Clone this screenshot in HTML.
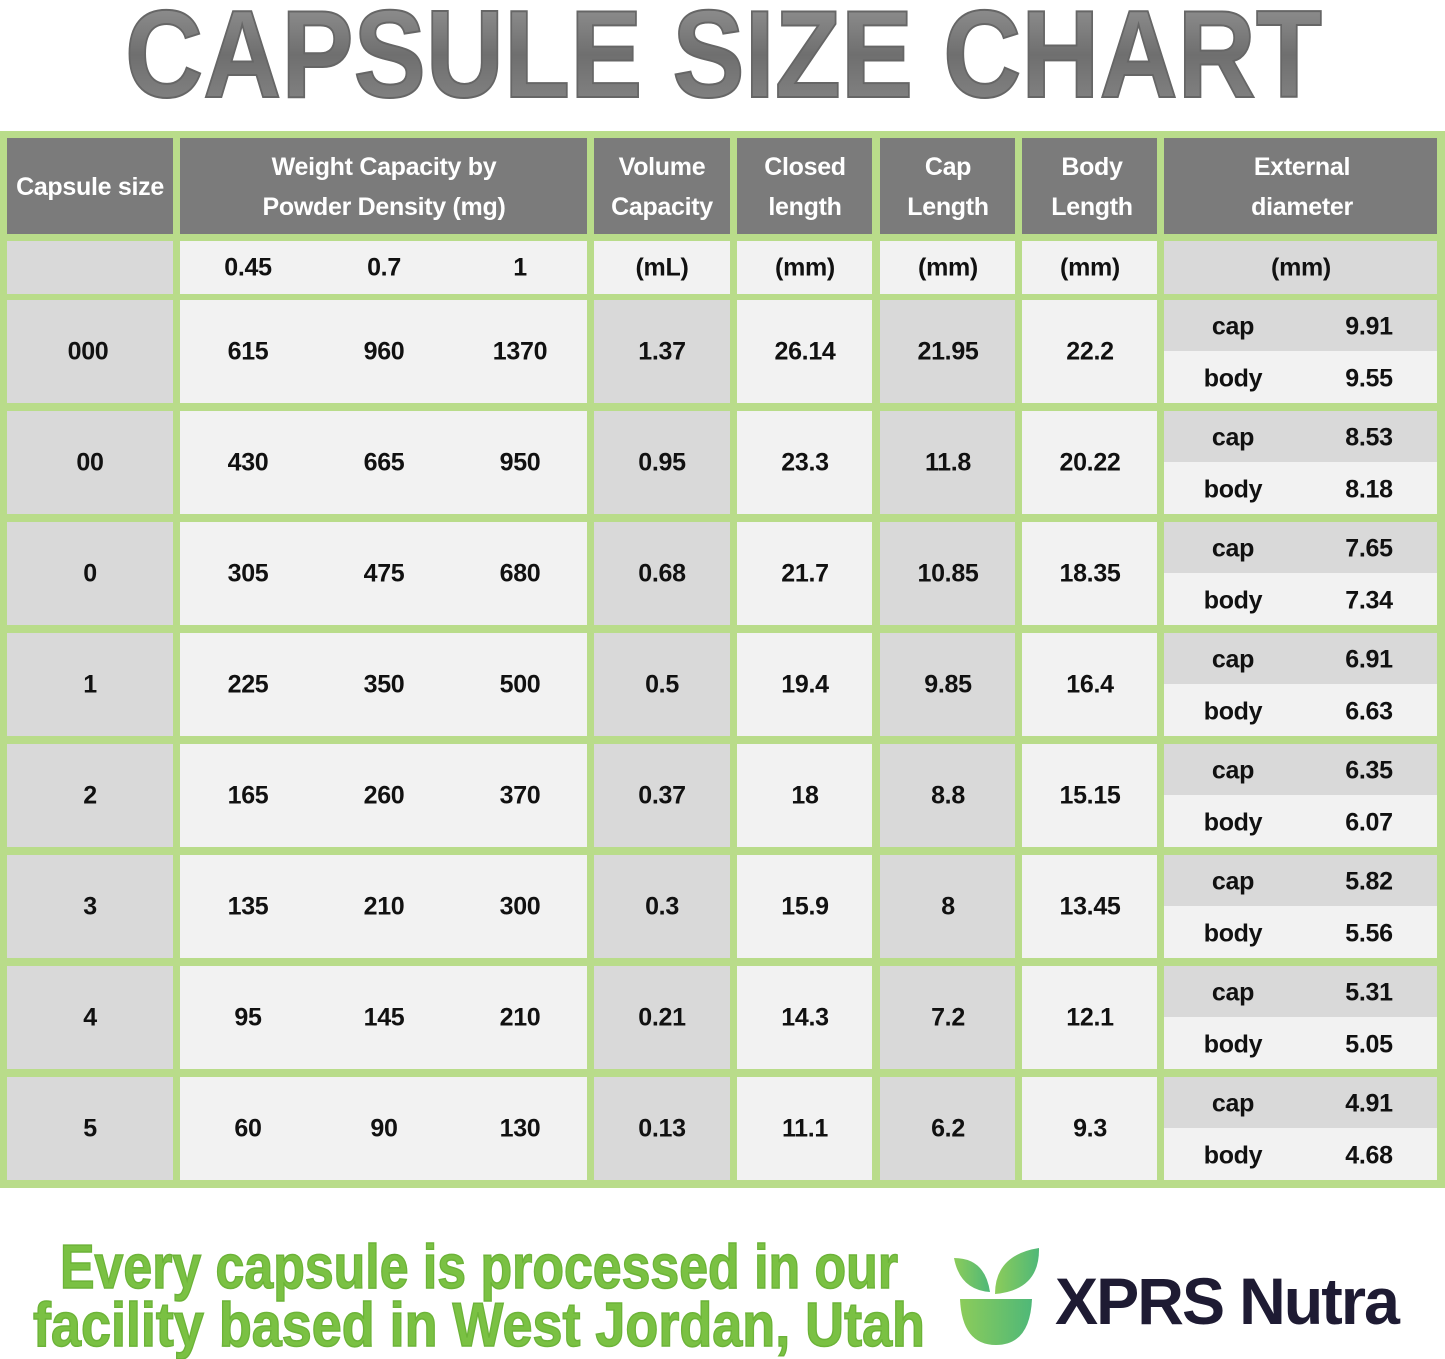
<!DOCTYPE html>
<html><head><meta charset="utf-8"><style>
body{margin:0;width:1445px;height:1359px;background:#fff;position:relative;overflow:hidden;font-family:"Liberation Sans",sans-serif}
.c{position:absolute}
.g{background:#d9d9d9}.l{background:#f2f2f2}.h{background:#7b7b7b}
.t{position:absolute;transform:translate(-50%,-50%);font-weight:bold;font-size:25px;color:#111;white-space:nowrap;letter-spacing:-0.3px}
.w{color:#fff;text-align:center;line-height:40px}
</style></head><body>
<svg class="c" style="left:0;top:0" width="1445" height="1359">
<defs><linearGradient id="tg" x1="0" y1="0" x2="0" y2="1"><stop offset="0" stop-color="#9a9a9a"/><stop offset="0.5" stop-color="#6f6f6f"/><stop offset="1" stop-color="#8a8a8a"/></linearGradient></defs>
<text x="125" y="97" textLength="1197" lengthAdjust="spacingAndGlyphs" font-family="Liberation Sans" font-weight="bold" font-size="124" fill="url(#tg)" stroke="#666" stroke-width="2">CAPSULE SIZE CHART</text>
<text x="60" y="1288" textLength="838" lengthAdjust="spacingAndGlyphs" font-family="Liberation Sans" font-weight="bold" font-size="62" fill="#7ac143" stroke="#6cb338" stroke-width="1.5">Every capsule is processed in our</text>
<text x="33" y="1346" textLength="892" lengthAdjust="spacingAndGlyphs" font-family="Liberation Sans" font-weight="bold" font-size="62" fill="#7ac143" stroke="#6cb338" stroke-width="1.5">facility based in West Jordan, Utah</text>
<defs><linearGradient id="lg" x1="0" y1="0" x2="1" y2="0"><stop offset="0" stop-color="#8ccc5a"/><stop offset="1" stop-color="#4fb878"/></linearGradient></defs>
<path d="M960 1299 L1032 1299 Q1030 1345 996 1345 Q962 1345 960 1299Z" fill="url(#lg)"/>
<path d="M954 1258 Q985 1258 990 1292 Q960 1290 954 1258Z" fill="url(#lg)"/>
<path d="M1039 1248 Q1040 1290 995 1294 Q995 1255 1039 1248Z" fill="url(#lg)"/>
<text x="1055" y="1324" textLength="343" lengthAdjust="spacingAndGlyphs" font-family="Liberation Sans" font-weight="bold" font-size="66" fill="#1e1b33" letter-spacing="-2">XPRS Nutra</text>
</svg>
<div class="c" style="left:0;top:131px;width:1445px;height:1057px;background:#b9dc8a"></div>
<!-- header -->
<div class="c h" style="left:7px;top:138px;width:166px;height:96px"></div>
<div class="c h" style="left:180px;top:138px;width:407px;height:96px"></div>
<div class="c h" style="left:594px;top:138px;width:136px;height:96px"></div>
<div class="c h" style="left:737px;top:138px;width:135px;height:96px"></div>
<div class="c h" style="left:880px;top:138px;width:135px;height:96px"></div>
<div class="c h" style="left:1022px;top:138px;width:135px;height:96px"></div>
<div class="c h" style="left:1164px;top:138px;width:273px;height:96px"></div>
<div class="t w" style="left:90px;top:187px">Capsule size</div>
<div class="t w" style="left:384px;top:187px">Weight Capacity by<br>Powder Density (mg)</div>
<div class="t w" style="left:662px;top:187px">Volume<br>Capacity</div>
<div class="t w" style="left:805px;top:187px">Closed<br>length</div>
<div class="t w" style="left:948px;top:187px">Cap<br>Length</div>
<div class="t w" style="left:1092px;top:187px">Body<br>Length</div>
<div class="t w" style="left:1302px;top:187px">External<br>diameter</div>
<!-- sub -->
<div class="c g" style="left:7px;top:241px;width:166px;height:53px"></div>
<div class="c l" style="left:180px;top:241px;width:407px;height:53px"></div>
<div class="c l" style="left:594px;top:241px;width:136px;height:53px"></div>
<div class="c l" style="left:737px;top:241px;width:135px;height:53px"></div>
<div class="c l" style="left:880px;top:241px;width:135px;height:53px"></div>
<div class="c l" style="left:1022px;top:241px;width:135px;height:53px"></div>
<div class="c g" style="left:1164px;top:241px;width:273px;height:53px"></div>
<div class="t" style="left:248px;top:268px">0.45</div><div class="t" style="left:384px;top:268px">0.7</div><div class="t" style="left:520px;top:268px">1</div>
<div class="t" style="left:662px;top:268px">(mL)</div><div class="t" style="left:805px;top:268px">(mm)</div><div class="t" style="left:948px;top:268px">(mm)</div><div class="t" style="left:1090px;top:268px">(mm)</div><div class="t" style="left:1301px;top:268px">(mm)</div>

<!-- rows: top T, height 103 -->
<div class="c g" style="left:7px;top:300px;width:166px;height:880px"></div>
<div class="c" style="left:0;top:403px;width:1445px;height:8px;background:#b9dc8a;z-index:2"></div>
<div class="c" style="left:0;top:514px;width:1445px;height:8px;background:#b9dc8a;z-index:2"></div>
<div class="c" style="left:0;top:625px;width:1445px;height:8px;background:#b9dc8a;z-index:2"></div>
<div class="c" style="left:0;top:736px;width:1445px;height:8px;background:#b9dc8a;z-index:2"></div>
<div class="c" style="left:0;top:847px;width:1445px;height:8px;background:#b9dc8a;z-index:2"></div>
<div class="c" style="left:0;top:958px;width:1445px;height:8px;background:#b9dc8a;z-index:2"></div>
<div class="c" style="left:0;top:1069px;width:1445px;height:8px;background:#b9dc8a;z-index:2"></div>
<div class="c l" style="left:180px;top:300px;width:407px;height:880px"></div>
<div class="c g" style="left:594px;top:300px;width:136px;height:880px"></div>
<div class="c l" style="left:737px;top:300px;width:135px;height:880px"></div>
<div class="c g" style="left:880px;top:300px;width:135px;height:880px"></div>
<div class="c l" style="left:1022px;top:300px;width:135px;height:880px"></div>
<div class="c" style="left:1164px;top:300px;width:273px;height:880px;background:repeating-linear-gradient(to bottom,#d9d9d9 0,#d9d9d9 51px,#f2f2f2 51px,#f2f2f2 111px)"></div>

<div class="t" style="left:88px;top:352px">000</div><div class="t" style="left:248px;top:352px">615</div><div class="t" style="left:384px;top:352px">960</div><div class="t" style="left:520px;top:352px">1370</div><div class="t" style="left:662px;top:352px">1.37</div><div class="t" style="left:805px;top:352px">26.14</div><div class="t" style="left:948px;top:352px">21.95</div><div class="t" style="left:1090px;top:352px">22.2</div><div class="t" style="left:1233px;top:327px">cap</div><div class="t" style="left:1369px;top:327px">9.91</div><div class="t" style="left:1233px;top:379px">body</div><div class="t" style="left:1369px;top:379px">9.55</div>

<div class="t" style="left:90px;top:463px">00</div><div class="t" style="left:248px;top:463px">430</div><div class="t" style="left:384px;top:463px">665</div><div class="t" style="left:520px;top:463px">950</div><div class="t" style="left:662px;top:463px">0.95</div><div class="t" style="left:805px;top:463px">23.3</div><div class="t" style="left:948px;top:463px">11.8</div><div class="t" style="left:1090px;top:463px">20.22</div><div class="t" style="left:1233px;top:438px">cap</div><div class="t" style="left:1369px;top:438px">8.53</div><div class="t" style="left:1233px;top:490px">body</div><div class="t" style="left:1369px;top:490px">8.18</div>

<div class="t" style="left:90px;top:574px">0</div><div class="t" style="left:248px;top:574px">305</div><div class="t" style="left:384px;top:574px">475</div><div class="t" style="left:520px;top:574px">680</div><div class="t" style="left:662px;top:574px">0.68</div><div class="t" style="left:805px;top:574px">21.7</div><div class="t" style="left:948px;top:574px">10.85</div><div class="t" style="left:1090px;top:574px">18.35</div><div class="t" style="left:1233px;top:549px">cap</div><div class="t" style="left:1369px;top:549px">7.65</div><div class="t" style="left:1233px;top:601px">body</div><div class="t" style="left:1369px;top:601px">7.34</div>

<div class="t" style="left:90px;top:685px">1</div><div class="t" style="left:248px;top:685px">225</div><div class="t" style="left:384px;top:685px">350</div><div class="t" style="left:520px;top:685px">500</div><div class="t" style="left:662px;top:685px">0.5</div><div class="t" style="left:805px;top:685px">19.4</div><div class="t" style="left:948px;top:685px">9.85</div><div class="t" style="left:1090px;top:685px">16.4</div><div class="t" style="left:1233px;top:660px">cap</div><div class="t" style="left:1369px;top:660px">6.91</div><div class="t" style="left:1233px;top:712px">body</div><div class="t" style="left:1369px;top:712px">6.63</div>

<div class="t" style="left:90px;top:796px">2</div><div class="t" style="left:248px;top:796px">165</div><div class="t" style="left:384px;top:796px">260</div><div class="t" style="left:520px;top:796px">370</div><div class="t" style="left:662px;top:796px">0.37</div><div class="t" style="left:805px;top:796px">18</div><div class="t" style="left:948px;top:796px">8.8</div><div class="t" style="left:1090px;top:796px">15.15</div><div class="t" style="left:1233px;top:771px">cap</div><div class="t" style="left:1369px;top:771px">6.35</div><div class="t" style="left:1233px;top:823px">body</div><div class="t" style="left:1369px;top:823px">6.07</div>

<div class="t" style="left:90px;top:907px">3</div><div class="t" style="left:248px;top:907px">135</div><div class="t" style="left:384px;top:907px">210</div><div class="t" style="left:520px;top:907px">300</div><div class="t" style="left:662px;top:907px">0.3</div><div class="t" style="left:805px;top:907px">15.9</div><div class="t" style="left:948px;top:907px">8</div><div class="t" style="left:1090px;top:907px">13.45</div><div class="t" style="left:1233px;top:882px">cap</div><div class="t" style="left:1369px;top:882px">5.82</div><div class="t" style="left:1233px;top:934px">body</div><div class="t" style="left:1369px;top:934px">5.56</div>

<div class="t" style="left:90px;top:1018px">4</div><div class="t" style="left:248px;top:1018px">95</div><div class="t" style="left:384px;top:1018px">145</div><div class="t" style="left:520px;top:1018px">210</div><div class="t" style="left:662px;top:1018px">0.21</div><div class="t" style="left:805px;top:1018px">14.3</div><div class="t" style="left:948px;top:1018px">7.2</div><div class="t" style="left:1090px;top:1018px">12.1</div><div class="t" style="left:1233px;top:993px">cap</div><div class="t" style="left:1369px;top:993px">5.31</div><div class="t" style="left:1233px;top:1045px">body</div><div class="t" style="left:1369px;top:1045px">5.05</div>

<div class="t" style="left:90px;top:1129px">5</div><div class="t" style="left:248px;top:1129px">60</div><div class="t" style="left:384px;top:1129px">90</div><div class="t" style="left:520px;top:1129px">130</div><div class="t" style="left:662px;top:1129px">0.13</div><div class="t" style="left:805px;top:1129px">11.1</div><div class="t" style="left:948px;top:1129px">6.2</div><div class="t" style="left:1090px;top:1129px">9.3</div><div class="t" style="left:1233px;top:1104px">cap</div><div class="t" style="left:1369px;top:1104px">4.91</div><div class="t" style="left:1233px;top:1156px">body</div><div class="t" style="left:1369px;top:1156px">4.68</div>
</body></html>
